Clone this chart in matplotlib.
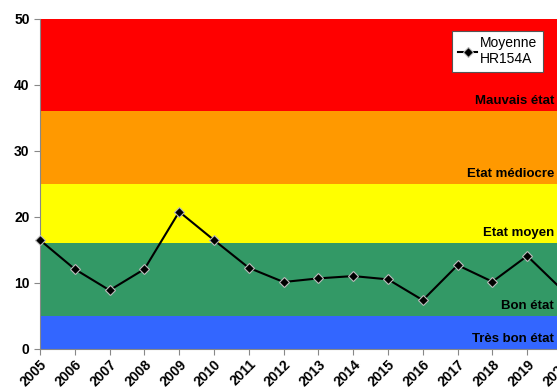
import matplotlib
matplotlib.use("Agg")
import matplotlib.pyplot as plt
from matplotlib.transforms import blended_transform_factory

# valeurs moyennes HR154A
years = [2005, 2006, 2007, 2008, 2009, 2010, 2011, 2012, 2013, 2014,
         2015, 2016, 2017, 2018, 2019, 2020]
values = [16.5, 12.1, 8.9, 12.1, 20.8, 16.5, 12.3, 10.15, 10.7, 11.05,
          10.55, 7.4, 12.7, 10.2, 14.1, 9.0]

# classes d'etat
band_limits = [0, 5, 16, 25, 36, 50]
band_colors = ["#3366FF", "#339966", "#FFFF00", "#FF9900", "#FF0000"]
band_labels = ["Très bon état", "Bon état", "Etat moyen", "Etat médiocre", "Mauvais état"]

plt.rcParams['font.family'] = ['Liberation Sans', 'DejaVu Sans']

fig = plt.figure(figsize=(5.57, 3.87), dpi=100)
ax = fig.add_axes([40 / 557, 38 / 387, 522 / 557, 330 / 387])

# x en coordonnees figure (le graphe deborde a droite), y en donnees
trans = blended_transform_factory(fig.transFigure, ax.transData)
for i in range(len(band_colors)):
    ax.axhspan(band_limits[i], band_limits[i + 1], color=band_colors[i], lw=0, zorder=0)
    ax.text(554 / 557, band_limits[i] + 0.6, band_labels[i], transform=trans,
            ha='right', va='bottom', fontsize=9.5, fontweight='bold', color='black', zorder=1)

ax.plot(years, values, color='black', lw=1.5, marker='D', markersize=5,
        markerfacecolor='black', markeredgecolor='#bbbbbb', markeredgewidth=0.8,
        label="Moyenne\nHR154A", zorder=3, clip_on=False)

ax.set_xlim(2005, 2020)
ax.set_ylim(0, 50)
ax.set_yticks(range(0, 51, 10))
ax.set_xticks(years)
ax.set_xticklabels([str(y) for y in years], rotation=45, ha='right', rotation_mode='anchor')

for lab in ax.get_xticklabels() + ax.get_yticklabels():
    lab.set_fontweight('bold')
    lab.set_fontsize(10)

for side in ['top', 'right']:
    ax.spines[side].set_visible(False)
for side in ['left', 'bottom']:
    ax.spines[side].set_color('#888888')
ax.tick_params(axis='both', color='#888888', length=4, width=0.8)
ax.tick_params(axis='x', pad=2)

leg = ax.legend(loc='upper right', bbox_to_anchor=(0.9636, 0.9645), fontsize=10,
                frameon=True, fancybox=False, framealpha=1, handlelength=1.4,
                handletextpad=0.2, borderpad=0.4, borderaxespad=0)
leg.get_frame().set_facecolor('white')
leg.get_frame().set_edgecolor('#555555')
leg.get_frame().set_linewidth(0.8)

fig.savefig("out.png", dpi=100)
